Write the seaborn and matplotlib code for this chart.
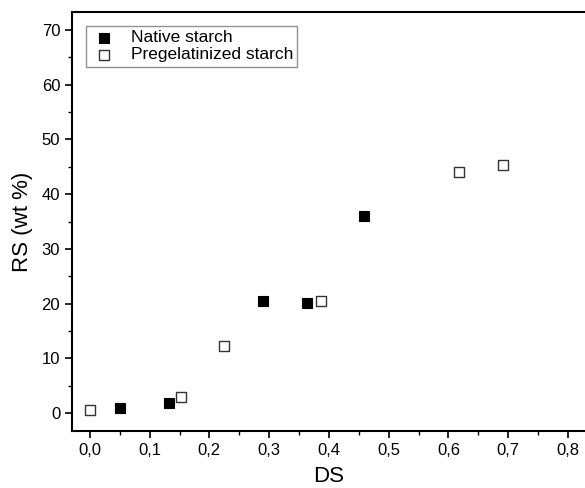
import matplotlib
matplotlib.use("Agg")
import matplotlib.pyplot as plt
import seaborn as sns
import pandas as pd
from matplotlib.ticker import MultipleLocator, FuncFormatter

native_ds = [0.05, 0.133, 0.29, 0.363, 0.458]
native_rs = [0.9, 1.9, 20.4, 20.1, 36.0]
pregel_ds = [0.0, 0.153, 0.224, 0.387, 0.617, 0.691]
pregel_rs = [0.5, 2.9, 12.2, 20.4, 44.1, 45.4]
series_names = ["Native starch", "Pregelatinized starch"]

df = pd.DataFrame({
    "DS": native_ds + pregel_ds,
    "RS": native_rs + pregel_rs,
    "type": [series_names[0]] * len(native_ds) + [series_names[1]] * len(pregel_ds),
})

sns.set_style("ticks")
plt.rcParams["font.family"] = ["Liberation Sans", "DejaVu Sans"]
plt.rcParams["text.color"] = "black"
plt.rcParams["axes.labelcolor"] = "black"
plt.rcParams["xtick.color"] = "black"
plt.rcParams["ytick.color"] = "black"

fig = plt.figure(figsize=(5.85, 4.88), dpi=100)
ax = fig.add_axes([72 / 585, 1 - 431 / 488, (585 - 72) / 585, (431 - 12) / 488])

sns.scatterplot(data=df[df["type"] == series_names[0]], x="DS", y="RS", ax=ax,
                marker="s", s=44, color="black", edgecolor="black", linewidth=0.8,
                label=series_names[0], zorder=3)
sns.scatterplot(data=df[df["type"] == series_names[1]], x="DS", y="RS", ax=ax,
                marker="s", s=44, facecolor="white", edgecolor="#333333", linewidth=1.0,
                label=series_names[1], zorder=3)

ax.set_xlim(-0.03, 0.8286)
ax.set_ylim(-3.3, 73.3)
ax.xaxis.set_major_locator(MultipleLocator(0.1))
ax.xaxis.set_minor_locator(MultipleLocator(0.05))
ax.yaxis.set_major_locator(MultipleLocator(10))
ax.yaxis.set_minor_locator(MultipleLocator(5))
ax.xaxis.set_major_formatter(FuncFormatter(lambda v, p: f"{v:.1f}".replace(".", ",")))
ax.yaxis.set_major_formatter(FuncFormatter(lambda v, p: f"{v:.0f}"))
ax.tick_params(which="major", direction="out", length=5, width=1.2, labelsize=12,
               color="black", labelcolor="black")
ax.tick_params(which="minor", direction="out", length=3, width=1.0, color="black")
for s in ["left", "bottom", "top", "right"]:
    ax.spines[s].set_linewidth(1.5)
    ax.spines[s].set_color("black")
ax.spines["right"].set_visible(False)

ax.set_xlabel("DS", fontsize=16, labelpad=6, color="black")
ax.set_ylabel("RS (wt %)", fontsize=16, labelpad=6, color="black")

leg = ax.legend(loc="upper left", bbox_to_anchor=(0.028, 0.967), frameon=True, fancybox=False,
                fontsize=12.5, handletextpad=0.8, borderpad=0.25, labelspacing=0.1,
                handlelength=1.5, borderaxespad=0)
leg.get_frame().set_edgecolor("#777777")
leg.get_frame().set_linewidth(1.0)
for t in leg.get_texts():
    t.set_color("black")

fig.savefig("out.png", dpi=100)
